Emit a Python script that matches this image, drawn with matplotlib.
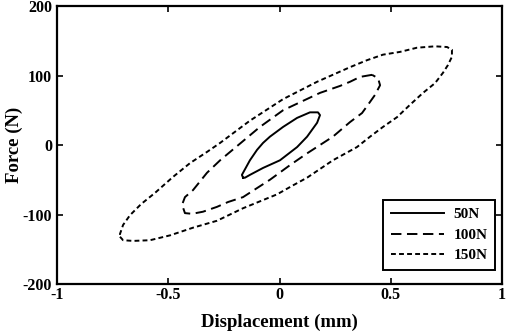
import matplotlib
matplotlib.use("Agg")
import matplotlib.pyplot as plt

plt.rcParams['font.family'] = ['Liberation Serif', 'DejaVu Serif']
plt.rcParams['font.weight'] = 'bold'
plt.rcParams['lines.scale_dashes'] = False
plt.rcParams['axes.unicode_minus'] = False

# Hysteresis loops (displacement mm, force N)
disp_50 = [-0.164, -0.169, -0.133, -0.101, -0.074, -0.043, 0.016, 0.079, 0.137, 0.173,
           0.182, 0.169, 0.124, 0.079, 0.002, -0.074, -0.133, -0.155, -0.164]
force_50 = [-47, -43, -22, -7, 3, 12, 26, 39, 47, 47,
            43, 32, 12, -3, -22, -33, -43, -47, -47]

disp_100 = [0.416, 0.362, 0.317, 0.272, 0.182, 0.016, -0.088, -0.267, -0.326, -0.389,
            -0.425, -0.438, -0.425, -0.393, -0.344, -0.281, -0.231, -0.164, -0.043, 0.047,
            0.124, 0.240, 0.317, 0.371, 0.398, 0.429, 0.452, 0.443, 0.416]
force_100 = [101, 98, 91, 85, 75, 50, 26, -22, -40, -65,
             -75, -86, -98, -99, -96, -89, -82, -75, -50, -29,
             -12, 12, 33, 46, 58, 72, 86, 96, 101]

disp_150 = [-0.717, -0.703, -0.658, -0.582, -0.492, -0.389, -0.281, -0.164, -0.011, 0.061,
            0.124, 0.240, 0.348, 0.407, 0.465, 0.528, 0.587, 0.645, 0.699, 0.735,
            0.757, 0.775, 0.775, 0.753, 0.699, 0.618, 0.542, 0.465, 0.393, 0.317,
            0.169, 0.016, -0.133, -0.267, -0.326, -0.402, -0.479, -0.560, -0.622, -0.672,
            -0.703, -0.717, -0.717]
force_150 = [-132, -137, -138, -137, -130, -119, -109, -91, -71, -58,
             -47, -22, -3, 12, 26, 40, 58, 75, 89, 104,
             115, 127, 137, 141, 142, 140, 134, 130, 122, 112,
             91, 66, 35, 3, -10, -26, -46, -69, -85, -101,
             -115, -128, -132]

labels = ['50N', '100N', '150N']
xticks = [-1, -0.5, 0, 0.5, 1]
xticklabels = ['-1', '-0.5', '0', '0.5', '1']
yticks = [-200, -100, 0, 100, 200]

fig = plt.figure(figsize=(5.10, 3.34), dpi=100)
ax = fig.add_axes([0.1118, 0.1497, 0.8725, 0.8323])

lw = 1.4
ax.plot(disp_50, force_50, color='black', lw=lw, linestyle='-', label=labels[0])
ax.plot(disp_100, force_100, color='black', lw=lw, linestyle=(0, (7.5, 4)), label=labels[1])
ax.plot(disp_150, force_150, color='black', lw=lw, linestyle=(0, (3.5, 2.3)), label=labels[2])

ax.set_xlim(-1, 1)
ax.set_ylim(-200, 200)
ax.set_xticks(xticks)
ax.set_xticklabels(xticklabels)
ax.set_yticks(yticks)

for s in ax.spines.values():
    s.set_linewidth(1.6)

ax.tick_params(direction='in', length=4, width=1.2, top=True, right=True,
               labelsize=11.5)
ax.tick_params(axis='x', pad=2)
ax.tick_params(axis='y', pad=3.5)
for t in ax.get_xticklabels() + ax.get_yticklabels():
    t.set_fontweight('bold')

ax.set_xlabel('Displacement (mm)', fontsize=13.5, fontweight='bold', labelpad=8)
ax.set_ylabel('Force (N)', fontsize=13.5, fontweight='bold', labelpad=0)

leg = ax.legend(loc='lower right', bbox_to_anchor=(0.984, 0.05), borderaxespad=0,
                fancybox=False, edgecolor='black', framealpha=1,
                prop={'family': 'Liberation Serif', 'weight': 'bold', 'size': 11},
                handlelength=3.5, handletextpad=0.6, labelspacing=0.45,
                borderpad=0.5)
leg.get_frame().set_linewidth(1.4)

fig.savefig('out.png', dpi=100)
